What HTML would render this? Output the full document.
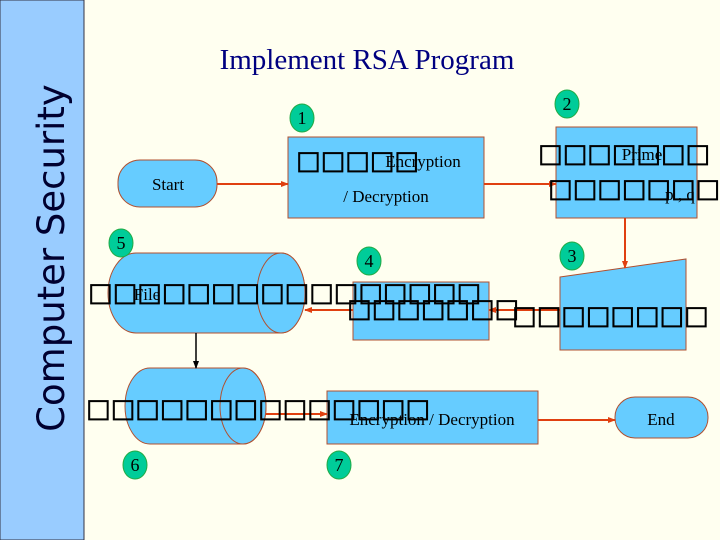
<!DOCTYPE html><html><head><style>body{margin:0;background:#fffff0}svg{display:block}</style></head><body>
<svg width="720" height="540" xmlns="http://www.w3.org/2000/svg" font-family="Liberation Serif, serif">
<defs><marker id="a" markerWidth="8" markerHeight="8" refX="7" refY="4" orient="auto" markerUnits="userSpaceOnUse"><path d="M0,1 L8,4 L0,7z" fill="#e04010"/></marker>
<marker id="b" markerWidth="8" markerHeight="8" refX="7" refY="4" orient="auto" markerUnits="userSpaceOnUse"><path d="M0,1 L8,4 L0,7z" fill="#000"/></marker></defs>
<rect width="720" height="540" fill="#fffff0"/>
<rect x="0" y="0" width="84" height="540" fill="#99ccff" stroke="#334" stroke-width="1"/>
<text transform="translate(64,258) rotate(-90)" text-anchor="middle" font-family="DejaVu Sans, sans-serif" font-size="37" fill="#000030">Computer Security</text>
<text x="367" y="69" text-anchor="middle" font-size="29" fill="#000080">Implement  RSA Program</text>
<g fill="#66ccff" stroke="#b05030" stroke-width="1">
<rect x="118" y="160" width="99" height="47" rx="22"/>
<rect x="288" y="137" width="196" height="81"/>
<rect x="556" y="127" width="141" height="91"/>
<path d="M560,277 L686,259 L686,350 L560,350z"/>
<rect x="353" y="282" width="136" height="58"/>
<path d="M136,253 L281,253 A24,40 0 0 1 281,333 L136,333 A28,40 0 0 1 136,253z"/>
<ellipse cx="281" cy="293" rx="24" ry="40"/>
<path d="M150,368 L243,368 A23,38 0 0 1 243,444 L150,444 A25,38 0 0 1 150,368z"/>
<ellipse cx="243" cy="406" rx="23" ry="38"/>
<rect x="327" y="391" width="211" height="53"/>
<rect x="615" y="397" width="93" height="41" rx="20"/>
</g>
<g stroke="#e04010" stroke-width="2" fill="none" marker-end="url(#a)">
<line x1="217" y1="184" x2="288" y2="184"/>
<line x1="484" y1="184" x2="556" y2="184"/>
<line x1="625" y1="218" x2="625" y2="268"/>
<line x1="560" y1="310" x2="489" y2="310"/>
<line x1="353" y1="310" x2="305" y2="310"/>
<line x1="266" y1="414" x2="327" y2="414"/>
<line x1="538" y1="420" x2="615" y2="420"/>
</g>
<line x1="196" y1="333" x2="196" y2="368" stroke="#000" stroke-width="1.5" marker-end="url(#b)"/>
<g fill="#00cc99" stroke="#2a4" stroke-width="1">
<ellipse cx="302" cy="118" rx="12" ry="14"/><ellipse cx="567" cy="104" rx="12" ry="14"/>
<ellipse cx="572" cy="256" rx="12" ry="14"/><ellipse cx="369" cy="261" rx="12" ry="14"/>
<ellipse cx="121" cy="243" rx="12" ry="14"/><ellipse cx="135" cy="465" rx="12" ry="14"/>
<ellipse cx="339" cy="465" rx="12" ry="14"/></g>
<g font-size="18" text-anchor="middle" fill="#000">
<text x="302" y="124">1</text><text x="567" y="110">2</text><text x="572" y="262">3</text><text x="369" y="267">4</text><text x="121" y="249">5</text><text x="135" y="471">6</text><text x="339" y="471">7</text>
<text x="168" y="190" font-size="17">Start</text>
<text x="386" y="202" font-size="17">/ Decryption</text>
<text x="423" y="167" font-size="17">Encryption</text>
<text x="642" y="160" font-size="17">Prime</text>
<text x="680" y="200" font-size="17">p , q</text>
<text x="147" y="300" font-size="17">File</text>
<text x="432" y="425" font-size="17">Encryption / Decryption</text>
<text x="661" y="425" font-size="17">End</text>
</g>
<g font-family="DejaVu Sans, sans-serif" font-size="26" fill="#000" stroke="#000" stroke-width="0.6">
<text x="296" y="169">□□□□□</text>
<text x="538" y="162">□□□□□□□</text>
<text x="548" y="197">□□□□□□□</text>
<text x="88" y="301">□□□□□□□□□□□□□□□□</text>
<text x="347" y="317">□□□□□□□</text>
<text x="512" y="324">□□□□□□□□</text>
<text x="86" y="417">□□□□□□□□□□□□□□</text>
</g>
</svg></body></html>
